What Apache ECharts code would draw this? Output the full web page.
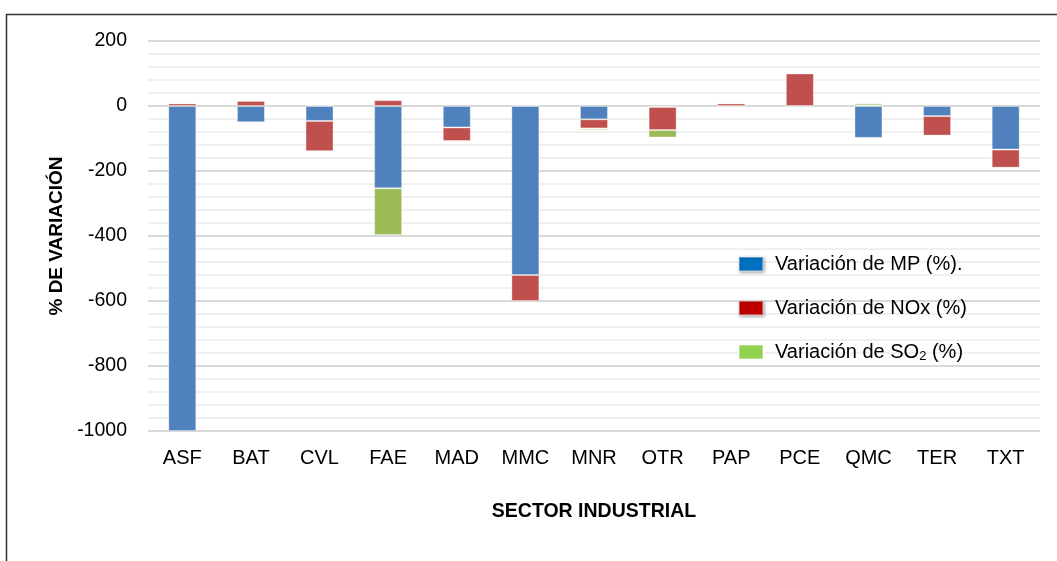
<!DOCTYPE html>
<html>
<head>
<meta charset="utf-8">
<script src="https://cdn.jsdelivr.net/npm/echarts@6/dist/echarts.min.js"></script>
<style>
    html, body { margin: 0; padding: 0; background: #fff; }
    #chart { width: 1057px; height: 561px; }
</style>
</head>
<body>
<div id="chart"></div>
<script>
// data
const sectores = ['ASF', 'BAT', 'CVL', 'FAE', 'MAD', 'MMC', 'MNR', 'OTR', 'PAP', 'PCE', 'QMC', 'TER', 'TXT']
const variacionMP = [-1000, -50, -46, -253, -66, -520, -41, -3, -2, 0, -98, -31, -134]
const variacionNOx = [8, 16, -93, 18, -42, -80, -28, -71, 8, 100, 2, -60, -56]
const variacionSO2 = [0, 0, 2, -144, 0, 2, -5, -23, 0, 0, 6, 0, 0]
const yTicks = [-1000, -800, -600, -400, -200, 0, 200]

const fontFam = '"Liberation Sans Narrow", "Arial Narrow", "Liberation Sans", Arial, sans-serif'

let chart = echarts.init(document.querySelector('#chart'))

let option = {
    backgroundColor: '#fff',
    animation: false,
    graphic: [{
        type: 'rect',
        left: 4,
        top: 12,
        shape: { width: 1070, height: 570 },
        style: { fill: 'none', stroke: '#333', lineWidth: 1.5 },
        silent: true,
        z: -1
    }],
    grid: {
        left: 148,
        right: 17,
        top: 41,
        bottom: 130
    },
    legend: {
        orient: 'vertical',
        left: 733,
        top: 249,
        itemGap: 24,
        itemWidth: 24,
        itemHeight: 14,
        icon: 'rect',
        textStyle: {
            fontFamily: fontFam,
            fontSize: 20,
            color: '#000',
            padding: [0, 0, 0, 7],
            rich: {
                sub: { fontFamily: fontFam, fontSize: 13, color: '#000', padding: [8, 0, 0, 0] }
            }
        },
        formatter: function (name) {
            return name.replace('SO2', 'SO{sub|2}')
        },
        data: [
            { name: 'Variación de MP (%).', itemStyle: { color: '#0070C0', shadowBlur: 3, shadowColor: 'rgba(0,0,0,0.4)', shadowOffsetX: 1, shadowOffsetY: 1 } },
            { name: 'Variación de NOx (%)', itemStyle: { color: '#C00000', shadowBlur: 3, shadowColor: 'rgba(0,0,0,0.4)', shadowOffsetX: 1, shadowOffsetY: 1 } },
            { name: 'Variación de SO2 (%)', itemStyle: { color: '#92D050' } }
        ]
    },
    xAxis: {
        type: 'category',
        data: sectores,
        axisLine: { show: false },
        axisTick: { show: false },
        axisLabel: {
            fontFamily: fontFam,
            fontSize: 20,
            color: '#000',
            margin: 17
        },
        name: 'SECTOR INDUSTRIAL',
        nameLocation: 'middle',
        nameGap: 71,
        nameTextStyle: {
            fontFamily: fontFam,
            fontSize: 19.5,
            fontWeight: 'bold',
            color: '#000'
        }
    },
    yAxis: {
        type: 'value',
        min: yTicks[0],
        max: yTicks[yTicks.length - 1],
        interval: 200,
        axisLine: { show: false },
        axisTick: { show: false },
        axisLabel: {
            fontFamily: fontFam,
            fontSize: 19.5,
            color: '#000',
            margin: 21,
            formatter: function (v) { return String(v) }
        },
        splitLine: { lineStyle: { color: '#D9D9D9', width: 2 } },
        minorTick: { show: false, splitNumber: 5 },
        minorSplitLine: { show: true, lineStyle: { color: '#F0F0F0', width: 2 } },
        name: '% DE VARIACIÓN',
        nameLocation: 'middle',
        nameGap: 73,
        nameTextStyle: {
            fontFamily: fontFam,
            fontSize: 19,
            fontWeight: 'bold',
            color: '#000'
        }
    },
    series: [
        {
            name: 'Variación de MP (%).',
            type: 'bar',
            stack: 'total',
            barWidth: 28,
            data: variacionMP,
            itemStyle: { color: '#4F81BD', borderColor: 'rgba(255,255,255,0.35)', borderWidth: 1 }
        },
        {
            name: 'Variación de NOx (%)',
            type: 'bar',
            stack: 'total',
            barWidth: 28,
            data: variacionNOx,
            itemStyle: { color: '#C0504D', borderColor: 'rgba(255,255,255,0.35)', borderWidth: 1 }
        },
        {
            name: 'Variación de SO2 (%)',
            type: 'bar',
            stack: 'total',
            barWidth: 28,
            data: variacionSO2,
            itemStyle: { color: '#9BBB59', borderColor: 'rgba(255,255,255,0.35)', borderWidth: 1 }
        }
    ]
}

chart.setOption(option)
</script>
</body>
</html>
